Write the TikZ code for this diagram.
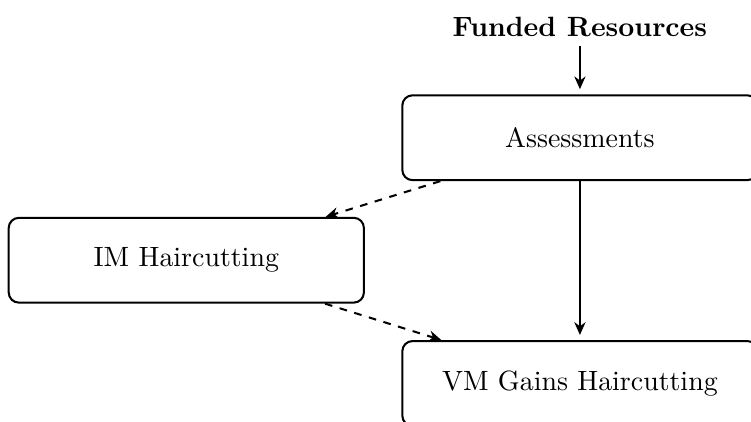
\documentclass[tikz,border=0pt]{standalone}
\usetikzlibrary{arrows.meta}
\begin{document}
\begin{tikzpicture}[font=\fontsize{10.95}{13.6}\selectfont, >={Stealth[length=5pt,width=4.4pt,inset=1.6pt]}]
    \tikzset{stage/.style={draw, thick, rounded corners=4pt, minimum width=4.9cm, minimum height=1.17cm}}
    \useasboundingbox[clip] (0,0) rectangle (10.36cm,5.81cm);
    \node (funded) at (8cm,5.44cm) {\textbf{Funded Resources}};
    \node[stage] (assess) at (8cm,3.91cm) {Assessments};
    \node[stage] (im) at (2.57cm,2.22cm) {IM Haircutting};
    \node[stage] (vm) at (8cm,0.52cm) {VM Gains Haircutting};
    \draw[thick, ->, shorten >=2pt] (funded) -- (assess);
    \draw[thick, ->, shorten >=2pt] (assess) -- (vm);
    \draw[thick, dashed, ->] (assess) -- (im); %
    \draw[thick, dashed, ->] (im) -- (vm); %
  \end{tikzpicture}
\end{document}
